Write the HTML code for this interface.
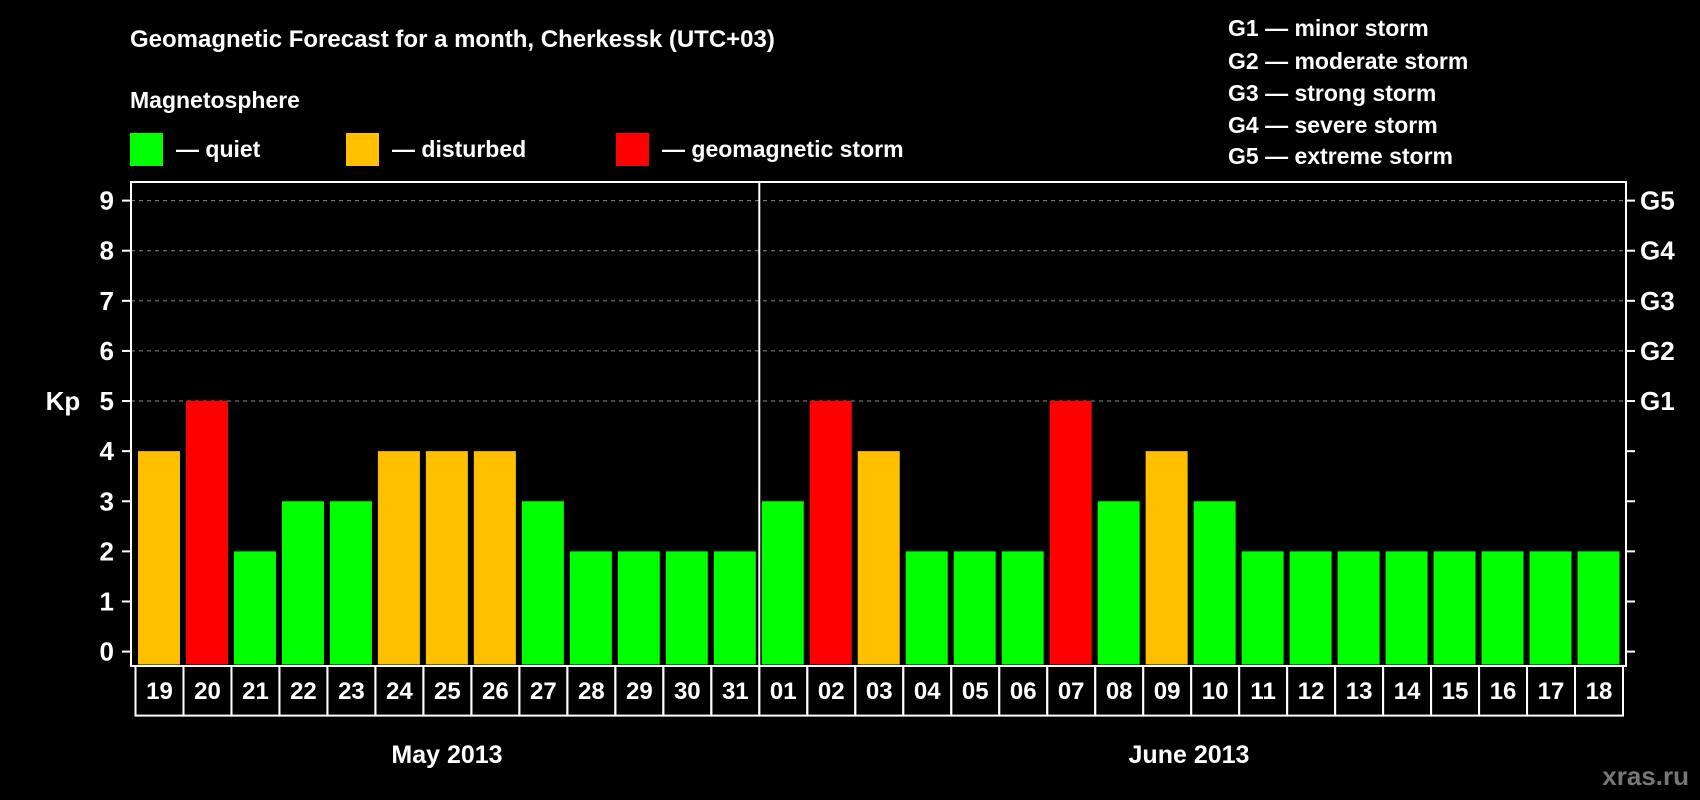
<!DOCTYPE html>
<html><head><meta charset="utf-8"><style>
html,body{margin:0;padding:0;background:#000;}
svg{display:block;font-family:"Liberation Sans",Arial,sans-serif;font-weight:bold;}
</style></head><body>
<svg id="chart" width="1700" height="800" viewBox="0 0 1700 800">
<rect width="1700" height="800" fill="#000"/>
<text x="130" y="47" fill="#fff" font-size="24">Geomagnetic Forecast for a month, Cherkessk (UTC+03)</text>
<text x="130" y="108" fill="#fff" font-size="23">Magnetosphere</text>
<g><rect x="130" y="133" width="33" height="33" fill="#00ff00"/><text x="176" y="157" fill="#fff" font-size="23">— quiet</text></g>
<g><rect x="346" y="133" width="33" height="33" fill="#ffc000"/><text x="392" y="157" fill="#fff" font-size="23">— disturbed</text></g>
<g><rect x="616" y="133" width="33" height="33" fill="#ff0000"/><text x="662" y="157" fill="#fff" font-size="23">— geomagnetic storm</text></g>
<g fill="#fff" font-size="23">
<text x="1228" y="36">G1 — minor storm</text>
<text x="1228" y="69">G2 — moderate storm</text>
<text x="1228" y="101">G3 — strong storm</text>
<text x="1228" y="133">G4 — severe storm</text>
<text x="1228" y="164">G5 — extreme storm</text>
</g>
<text x="63" y="410" fill="#fff" font-size="26" text-anchor="middle">Kp</text>
<text x="447" y="763" fill="#fff" font-size="25" text-anchor="middle">May 2013</text>
<text x="1189" y="763" fill="#fff" font-size="25" text-anchor="middle">June 2013</text>
<text x="1689" y="785" fill="#777" font-size="26" text-anchor="end">xras.ru</text>
<g id="plot"></g>
</svg>
<script>
const days = ["19","20","21","22","23","24","25","26","27","28","29","30","31","01","02","03","04","05","06","07","08","09","10","11","12","13","14","15","16","17","18"];
const kpValues = [4,5,2,3,3,4,4,4,3,2,2,2,2,3,5,4,2,2,2,5,3,4,3,2,2,2,2,2,2,2,2];
const yTicks = ["0","1","2","3","4","5","6","7","8","9"];
const gLabels = ["G1","G2","G3","G4","G5"];
const NS="http://www.w3.org/2000/svg";
const g=document.getElementById('plot');
const L=131,R=1626,T=182,B=666,cellL=135.5,cellR=1623;
const cw=(cellR-cellL)/days.length;
function y(v){return 651.6-v*(651.6-200.6)/9;}
function x(i){return cellL+i*cw;}
function mk(t,a){const e=document.createElementNS(NS,t);for(const k in a)e.setAttribute(k,a[k]);g.appendChild(e);return e;}
// gridlines
for(let v=5;v<=9;v++){const l=mk('line',{x1:L,x2:R,y1:y(v),y2:y(v),stroke:'#888','stroke-dasharray':'4,4','stroke-width':1});

}
// bars
kpValues.forEach((v,i)=>{const c=v>=5?'#ff0000':(v>=4?'#ffc000':'#00ff00');
const r=mk('rect',{x:x(i)+2.5,y:y(v),width:cw-6,height:B-y(v)-1.5,fill:c});

});
// frame
const f=mk('rect',{x:L,y:T,width:R-L,height:B-T,fill:'none',stroke:'#fff','stroke-width':2});


const sep=mk('line',{x1:x(13),x2:x(13),y1:T,y2:B,stroke:'#fff','stroke-width':2});


// y ticks
yTicks.forEach((t,i)=>{const v=+t;
mk('line',{x1:L-9,x2:L,y1:y(v),y2:y(v),stroke:'#fff','stroke-width':2});
mk('line',{x1:R,x2:R+9,y1:y(v),y2:y(v),stroke:'#fff','stroke-width':2});
const tx=mk('text',{x:114,y:y(v)+9,fill:'#fff','font-size':26,'text-anchor':'end'});tx.textContent=t;

});
gLabels.forEach((t,i)=>{const tx=mk('text',{x:1640,y:y(5+i)+9,fill:'#fff','font-size':26});tx.textContent=t;

});
// day label boxes
days.forEach((d,i)=>{const r=mk('rect',{x:x(i),y:B,width:cw,height:49.6,fill:'none',stroke:'#fff','stroke-width':2});


const tx=mk('text',{x:x(i)+cw/2,y:B+33,fill:'#fff','font-size':24,'text-anchor':'middle'});tx.textContent=d;

});
</script>
</body></html>
